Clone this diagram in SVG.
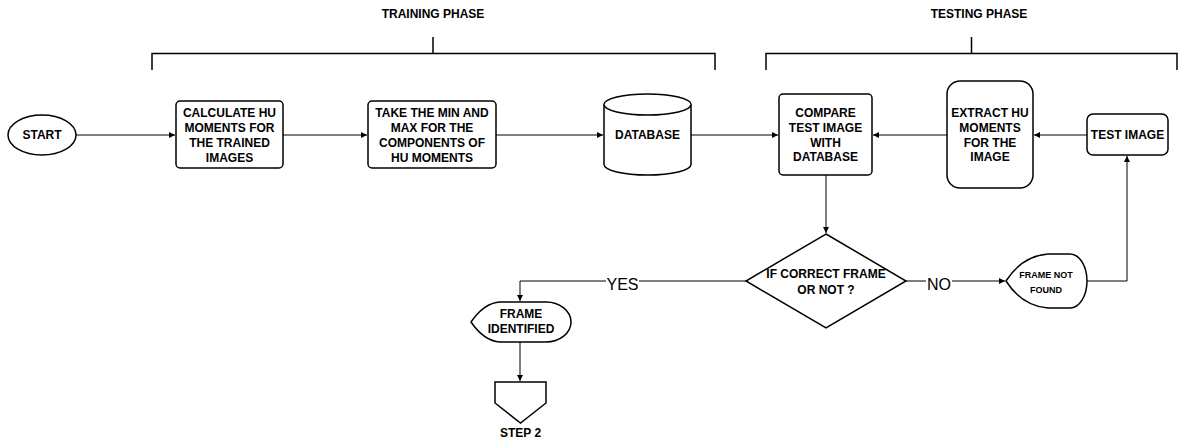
<svg xmlns="http://www.w3.org/2000/svg" width="1180" height="442" viewBox="0 0 1180 442">
<style>
.s{fill:#fff;stroke:#000;stroke-width:1.5}
.c{fill:none;stroke:#000;stroke-width:1}
.br{fill:none;stroke:#000;stroke-width:1.5}
text{font-family:"Liberation Sans",Arial,sans-serif;font-size:12px;font-weight:bold;text-anchor:middle;fill:#000}
.lbl{font-weight:normal;font-size:16px}
.sm{font-size:9px}
</style>
<defs>
<marker id="a" markerWidth="7" markerHeight="7" refX="6" refY="3.5" orient="auto" markerUnits="userSpaceOnUse">
<path d="M0,0.5 L6,3.5 L0,6.5 Z" fill="#000"/>
</marker>
</defs>
<rect width="1180" height="442" fill="#fff"/>
<g id="training-phase">
<path class="br" d="M152,70 V53.5 H715 V70 M433,53.5 V37"/>
<text x="433" y="18">TRAINING PHASE</text>
</g>
<g id="testing-phase">
<path class="br" d="M766,70 V53.5 H1177 V70 M971.5,53.5 V37"/>
<text x="979" y="18">TESTING PHASE</text>
</g>
<g id="connectors">
<path class="c" d="M76,135 H175" marker-end="url(#a)"/>
<path class="c" d="M283,135 H367" marker-end="url(#a)"/>
<path class="c" d="M496,135 H603" marker-end="url(#a)"/>
<path class="c" d="M691,135 H778" marker-end="url(#a)"/>
<path class="c" d="M1087,135 H1034" marker-end="url(#a)"/>
<path class="c" d="M947,135 H873" marker-end="url(#a)"/>
<path class="c" d="M826,175 V233" marker-end="url(#a)"/>
<path class="c" d="M746,281 H520 V301" marker-end="url(#a)"/>
<path class="c" d="M906,281 H1005" marker-end="url(#a)"/>
<path class="c" d="M1087,281 H1127 V156" marker-end="url(#a)"/>
<path class="c" d="M520,342 V381" marker-end="url(#a)"/>
<rect x="606" y="276" width="33" height="16" fill="#fff"/>
<text class="lbl" x="622.5" y="290">YES</text>
<rect x="926" y="276" width="26" height="16" fill="#fff"/>
<text class="lbl" x="939" y="290">NO</text>
</g>
<g id="start">
<ellipse class="s" cx="42" cy="135" rx="34" ry="20"/>
<text x="42" y="139">START</text>
</g>
<g id="calculate">
<rect class="s" x="176" y="101" width="107" height="67" rx="4"/>
<text x="229.5" y="117">CALCULATE HU</text>
<text x="229.5" y="132">MOMENTS FOR</text>
<text x="229.5" y="147">THE TRAINED</text>
<text x="229.5" y="162">IMAGES</text>
</g>
<g id="minmax">
<rect class="s" x="368" y="101" width="128" height="67" rx="4"/>
<text x="432" y="117">TAKE THE MIN AND</text>
<text x="432" y="132">MAX FOR THE</text>
<text x="432" y="147">COMPONENTS OF</text>
<text x="432" y="162">HU MOMENTS</text>
</g>
<g id="database">
<path class="s" d="M604,104.5 A43.5,10.5 0 0 1 691,104.5 V164.5 A43.5,10.5 0 0 1 604,164.5 Z"/>
<path class="s" d="M604,104.5 A43.5,10.5 0 0 0 691,104.5" fill="none"/>
<text x="647.5" y="139">DATABASE</text>
</g>
<g id="compare">
<rect class="s" x="779" y="94" width="93" height="81" rx="4"/>
<text x="825.5" y="117">COMPARE</text>
<text x="825.5" y="132">TEST IMAGE</text>
<text x="825.5" y="147">WITH</text>
<text x="825.5" y="161">DATABASE</text>
</g>
<g id="extract">
<rect class="s" x="947" y="81" width="86" height="107" rx="13" stroke-width="1"/>
<text x="990" y="117">EXTRACT HU</text>
<text x="990" y="132">MOMENTS</text>
<text x="990" y="147">FOR THE</text>
<text x="990" y="161">IMAGE</text>
</g>
<g id="test-image">
<rect class="s" x="1087" y="114" width="81" height="41" rx="6" stroke-width="1"/>
<text x="1127.5" y="139">TEST IMAGE</text>
</g>
<g id="decision">
<path class="s" d="M826,234 L906,281 L826,328 L746,281 Z"/>
<text x="826" y="278">IF CORRECT FRAME</text>
<text x="826" y="294">OR NOT ?</text>
</g>
<g id="frame-identified">
<path class="s" d="M471,322 Q484,303 500,302 H546 A25,20 0 0 1 546,342 H500 Q484,341 471,322 Z"/>
<text x="521" y="318">FRAME</text>
<text x="521" y="333">IDENTIFIED</text>
</g>
<g id="frame-not-found">
<path class="s" d="M1006,281 Q1022,256 1048,254 H1070 A17,27 0 0 1 1070,308 H1048 Q1022,306 1006,281 Z"/>
<text class="sm" x="1046" y="278">FRAME NOT</text>
<text class="sm" x="1046" y="293">FOUND</text>
</g>
<g id="step2">
<path class="s" d="M495,382 H546 V403 L520.5,423 L495,403 Z"/>
<text x="520.5" y="437">STEP 2</text>
</g>
</svg>
